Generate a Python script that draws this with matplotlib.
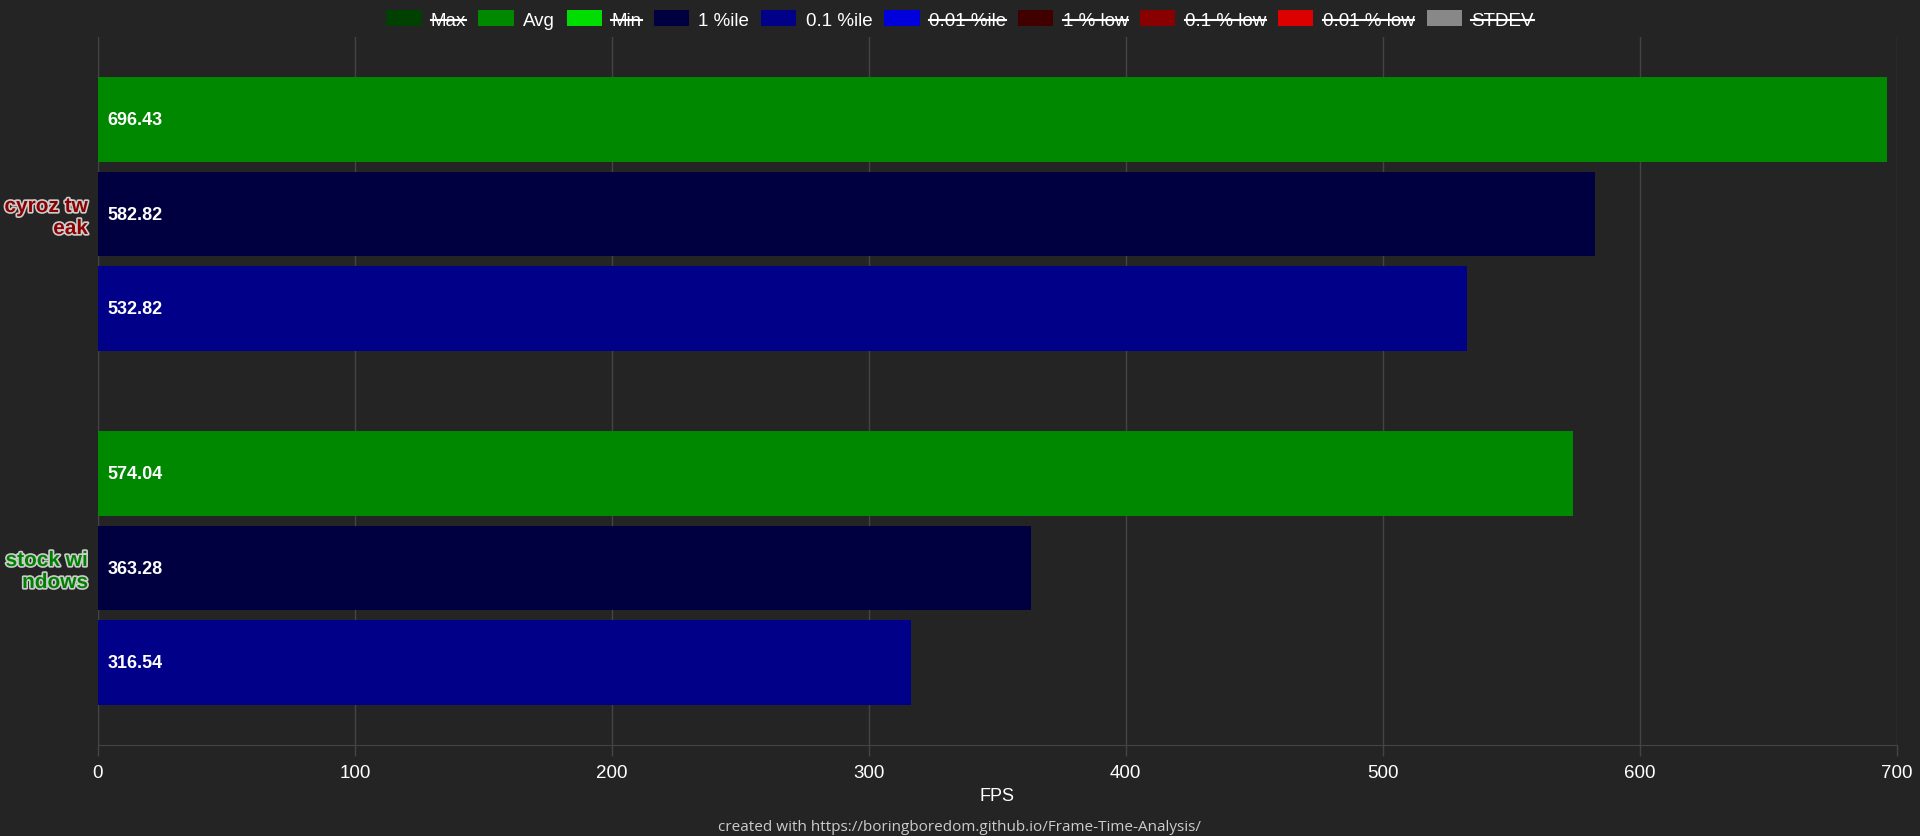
import matplotlib.pyplot as plt
import matplotlib.patheffects as pe
from matplotlib.patches import Patch
from matplotlib.lines import Line2D

plt.rcParams['font.family'] = ['Liberation Sans', 'DejaVu Sans']

# data
categories = ["cyroz tw\neak", "stock wi\nndows"]
cat_colors = ["#8b0000", "#008000"]
avg = [696.43, 574.04]
pct1 = [582.82, 363.28]
pct01 = [532.82, 316.54]

legend_labels = ["Max", "Avg", "Min", "1 %ile", "0.1 %ile", "0.01 %ile",
                 "1 % low", "0.1 % low", "0.01 % low", "STDEV"]
legend_colors = ["#004000", "#008800", "#00dd00", "#000040", "#000088", "#0000dd",
                 "#400000", "#880000", "#dd0000", "#888888"]
hidden = ["Max", "Min", "0.01 %ile", "1 % low", "0.1 % low", "0.01 % low", "STDEV"]

bg = "#242424"
grid_c = "#444444"

fig = plt.figure(figsize=(19.2, 8.37), dpi=100, facecolor=bg)
ax = fig.add_axes([0.051, 0.1087, 0.9368, 0.8459], facecolor=bg)

slot = 0.8 / 3
h = slot * 0.9
series = [(avg, "#008800"), (pct1, "#000040"), (pct01, "#000088")]
for i, (vals, col) in enumerate(series):
    ys = [c + (i - 1) * slot for c in range(len(categories))]
    bars = ax.barh(ys, vals, height=h, color=col, zorder=3)
    for b, v in zip(bars, vals):
        ax.annotate(f"{v:.2f}", (0, b.get_y() + b.get_height() / 2),
                    xytext=(7, 0), textcoords="offset points", va="center", ha="left",
                    color="white", fontsize=13, fontweight="bold", zorder=4)

ax.set_xlim(0, 700)
ax.set_ylim(1.5, -0.5)
ax.set_xticks(range(0, 701, 100))
ax.tick_params(axis="x", colors=grid_c, labelcolor="white", labelsize=13.5,
               length=8, width=1, pad=6)
ax.set_yticks(range(len(categories)))
ax.set_yticklabels(categories)
ax.tick_params(axis="y", length=0, pad=7)
for lab, c in zip(ax.get_yticklabels(), cat_colors):
    lab.set_color(c)
    lab.set_fontweight("bold")
    lab.set_fontsize(15)
    lab.set_linespacing(1.2)
    lab.set_path_effects([pe.withStroke(linewidth=2.4, foreground="#cccccc")])

ax.grid(axis="x", color=grid_c, linewidth=1, zorder=0)
for s in ["top", "right"]:
    ax.spines[s].set_visible(False)
for s in ["left", "bottom"]:
    ax.spines[s].set_color(grid_c)

ax.set_xlabel("FPS", color="white", fontsize=13, labelpad=4)

handles = [Patch(facecolor=c, edgecolor="none") for c in legend_colors]
leg = fig.legend(handles, legend_labels, loc="upper center", bbox_to_anchor=(0.5, 1.007),
                 ncol=10, frameon=False, fontsize=13.5, labelcolor="white",
                 handlelength=1.87, handleheight=0.96, handletextpad=0.5, columnspacing=0.65)

fig.text(0.5, 0.0115, "created with https://boringboredom.github.io/Frame-Time-Analysis/",
         ha="center", va="center", color="#cccccc", fontsize=11, family="Open Sans")

# strike through hidden legend entries
fig.canvas.draw()
inv = fig.transFigure.inverted()
for t in leg.get_texts():
    if t.get_text() in hidden:
        bb = t.get_window_extent()
        (x0, y0), (x1, y1) = inv.transform([(bb.x0, bb.y0), (bb.x1, bb.y1)])
        ym = y0 + (y1 - y0) * 0.5
        fig.add_artist(Line2D([x0, x1], [ym, ym], color="white", linewidth=1.5,
                              transform=fig.transFigure))

fig.savefig("out.png", dpi=100, facecolor=bg)
